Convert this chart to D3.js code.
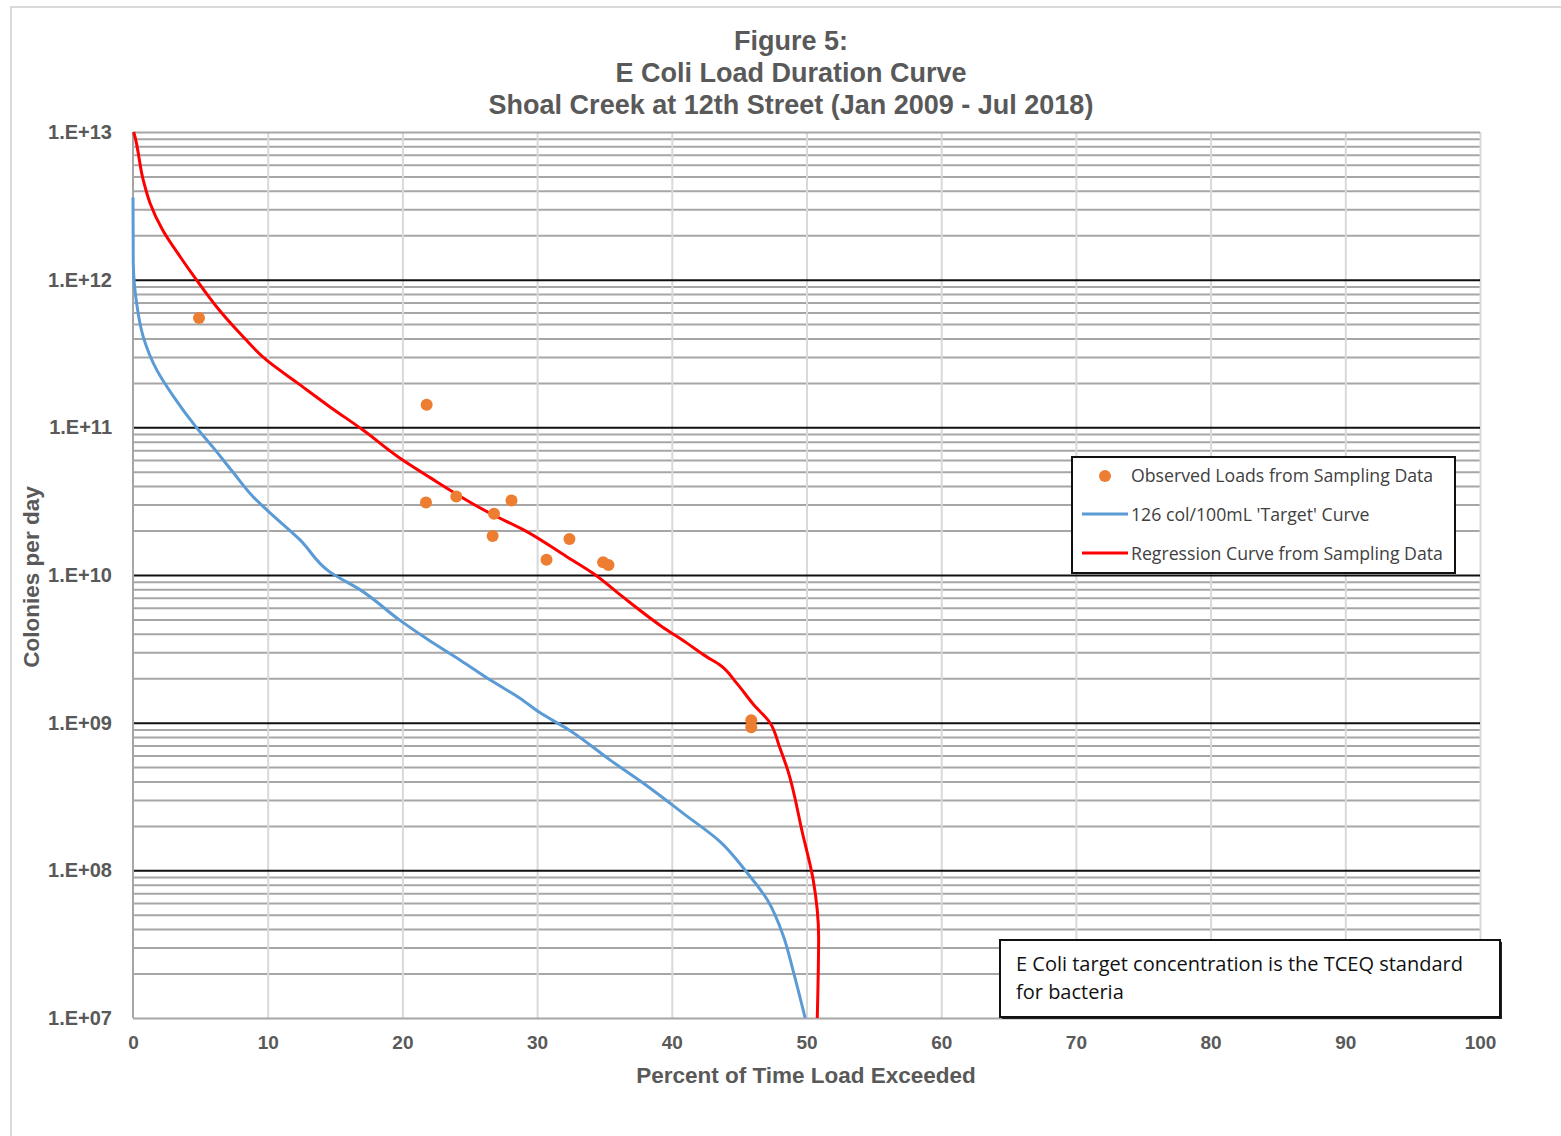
<!DOCTYPE html>
<html>
<head>
<meta charset="utf-8">
<script src="https://cdn.jsdelivr.net/npm/d3@7"></script>
<style>
  body { margin: 0; background: #fff; }
  text { font-family: "Liberation Sans", Arial, sans-serif; }
</style>
</head>
<body>
<script>
const width = 1561;
const height = 1136;

// observed loads (percent exceeded, colonies/day)
const obsPct = [4.9, 21.8, 21.75, 24.0, 26.8, 28.1, 26.7, 30.7, 32.4, 34.9, 35.3, 45.9, 45.9];
const obsLoad = [5.5e11, 1.42e11, 3.1e10, 3.4e10, 2.6e10, 3.2e10, 1.84e10, 1.27e10, 1.75e10, 1.22e10, 1.17e10, 1.04e9, 9.3e8];

// 126 col/100mL target curve
const targetPct = [0.0, 0.02, 0.27, 0.76, 1.76, 3.0, 4.7, 5.9, 7.4, 8.9, 9.95, 12.4, 14.6, 16.9, 19.8, 22.0, 24.3, 26.5, 28.7, 30.2, 32.4, 35.4, 38.4, 40.8, 43.6, 45.6, 47.1, 48.3, 49.0, 49.9];
const targetLoad = [3.6e12, 1.3e12, 6.9e11, 4.1e11, 2.45e11, 1.62e11, 1.0e11, 7.4e10, 5.0e10, 3.4e10, 2.75e10, 1.73e10, 1.05e10, 7.9e9, 4.95e9, 3.6e9, 2.65e9, 1.95e9, 1.47e9, 1.17e9, 8.9e8, 5.6e8, 3.6e8, 2.45e8, 1.56e8, 9.6e7, 6.3e7, 3.55e7, 2.1e7, 1.0e7];

// regression curve from sampling data
const regPct = [0.05, 0.15, 0.76, 1.26, 2.2, 3.5, 4.7, 6.2, 7.9, 9.9, 12.2, 14.6, 17.1, 19.8, 22.0, 26.5, 29.0, 32.2, 34.2, 36.2, 39.3, 41.1, 42.6, 43.6, 44.8, 46.0, 47.3, 48.0, 48.6, 49.7, 50.5, 50.9, 50.8];
const regLoad = [1.0e13, 9.25e12, 4.73e12, 3.31e12, 2.17e12, 1.43e12, 1.0e12, 6.56e11, 4.37e11, 2.86e11, 2.0e11, 1.38e11, 9.55e10, 6.2e10, 4.6e10, 2.62e10, 2.02e10, 1.33e10, 1.02e10, 7.3e9, 4.45e9, 3.47e9, 2.79e9, 2.45e9, 1.86e9, 1.35e9, 9.95e8, 6.84e8, 4.79e8, 1.79e8, 8.6e7, 3.55e7, 1.0e7];

const xTicks = [0, 10, 20, 30, 40, 50, 60, 70, 80, 90, 100];
const yTicks = [1e7, 1e8, 1e9, 1e10, 1e11, 1e12, 1e13];

const titleLines = ["Figure 5:", "E Coli Load Duration Curve", "Shoal Creek at 12th Street (Jan 2009 - Jul 2018)"];
const legendLabels = ["Observed Loads from Sampling Data", "126 col/100mL 'Target' Curve", "Regression Curve from Sampling Data"];
const noteLines = ["E Coli target concentration is the TCEQ standard", "for bacteria"];

const margin = { left: 133, right: 81, top: 132, bottom: 118 };
const grey = "#595959";

const svg = d3.select("body").append("svg")
    .attr("width", width)
    .attr("height", height);

// outer frame
svg.append("path")
    .attr("d", "M11," + height + "V7H" + width)
    .attr("fill", "none")
    .attr("stroke", "#d9d9d9")
    .attr("stroke-width", 2);

const xScale = d3.scaleLinear()
    .domain([0, 100])
    .range([margin.left, width - margin.right]);

const yScale = d3.scaleLog()
    .domain([1e7, 1e13])
    .range([height - margin.bottom, margin.top]);

// minor grid lines 2..9 x 10^n
const minor = [];
yTicks.slice(0, -1).forEach(function (d) {
    for (let k = 2; k < 10; k++) minor.push(d * k);
});

svg.append("g")
    .attr("transform", "translate(" + margin.left + ",0)")
    .call(d3.axisLeft(yScale).tickValues(minor).tickSize(-(xScale(100) - xScale(0))).tickFormat(""))
    .call(g => g.select(".domain").remove())
    .call(g => g.selectAll("line").attr("stroke", "#a6a6a6").attr("stroke-width", 2));

// vertical grid
svg.append("g")
    .attr("transform", "translate(0," + yScale(1e7) + ")")
    .call(d3.axisBottom(xScale).tickValues(xTicks.slice(1)).tickSize(-(yScale(1e7) - yScale(1e13))).tickFormat(""))
    .call(g => g.select(".domain").remove())
    .call(g => g.selectAll("line").attr("stroke", "#d9d9d9").attr("stroke-width", 2));

// major grid (decades)
svg.append("g")
    .attr("transform", "translate(" + margin.left + ",0)")
    .call(d3.axisLeft(yScale).tickValues(yTicks).tickSize(-(xScale(100) - xScale(0))).tickFormat(""))
    .call(g => g.select(".domain").remove())
    .call(g => g.selectAll("line")
        .attr("stroke", d => (d === 1e13 || d === 1e7) ? "#a6a6a6" : "#111")
        .attr("stroke-width", 2));

// left axis line
svg.append("line")
    .attr("x1", xScale(0)).attr("x2", xScale(0))
    .attr("y1", yScale(1e13)).attr("y2", yScale(1e7))
    .attr("stroke", "#a6a6a6")
    .attr("stroke-width", 2);

// tick labels
svg.append("g")
    .attr("transform", "translate(" + (margin.left - 18) + ",0)")
    .call(d3.axisLeft(yScale).tickValues(yTicks).tickSize(0)
        .tickFormat(d => "1.E+" + String(Math.round(Math.log10(d))).padStart(2, "0")))
    .call(g => g.select(".domain").remove())
    .call(g => g.selectAll("text")
        .attr("fill", grey)
        .style("font-size", "20px")
        .style("font-weight", "bold")
        .style("font-family", "'Liberation Sans', Arial, sans-serif"));

svg.append("g")
    .attr("transform", "translate(0," + (yScale(1e7) + 14) + ")")
    .call(d3.axisBottom(xScale).tickValues(xTicks).tickSize(0))
    .call(g => g.select(".domain").remove())
    .call(g => g.selectAll("text")
        .attr("fill", grey)
        .style("font-size", "19px")
        .style("font-weight", "bold")
        .style("font-family", "'Liberation Sans', Arial, sans-serif"));

// axis titles
svg.append("text")
    .attr("x", 806)
    .attr("y", 1083)
    .attr("text-anchor", "middle")
    .attr("fill", grey)
    .style("font-size", "22.5px")
    .style("font-weight", "bold")
    .text("Percent of Time Load Exceeded");

svg.append("text")
    .attr("transform", "translate(39,577) rotate(-90)")
    .attr("text-anchor", "middle")
    .attr("fill", grey)
    .style("font-size", "22.5px")
    .style("font-weight", "bold")
    .text("Colonies per day");

// title
svg.selectAll("text.title")
    .data(titleLines)
    .enter()
    .append("text")
    .attr("class", "title")
    .attr("x", 791)
    .attr("y", (d, i) => 50 + i * 32)
    .attr("text-anchor", "middle")
    .attr("fill", grey)
    .style("font-size", "27px")
    .style("font-weight", "bold")
    .text(d => d);

// curves
const line = d3.line()
    .x(d => xScale(d[0]))
    .y(d => yScale(d[1]))
    .curve(d3.curveMonotoneY);

svg.append("path")
    .datum(targetPct.map((p, i) => [p, targetLoad[i]]))
    .attr("d", line)
    .attr("fill", "none")
    .attr("stroke", "#5b9bd5")
    .attr("stroke-width", 3);

svg.append("path")
    .datum(regPct.map((p, i) => [p, regLoad[i]]))
    .attr("d", line)
    .attr("fill", "none")
    .attr("stroke", "#ff0000")
    .attr("stroke-width", 3);

// observed points
svg.selectAll("circle.obs")
    .data(obsPct.map((p, i) => [p, obsLoad[i]]))
    .enter()
    .append("circle")
    .attr("class", "obs")
    .attr("cx", d => xScale(d[0]))
    .attr("cy", d => yScale(d[1]))
    .attr("r", 6)
    .attr("fill", "#ed7d31");

// legend
const legend = svg.append("g").attr("transform", "translate(1072,457)");
legend.append("rect")
    .attr("width", 383).attr("height", 116)
    .attr("fill", "#fff")
    .attr("stroke", "#111")
    .attr("stroke-width", 2);
legend.append("circle")
    .attr("cx", 33).attr("cy", 19).attr("r", 6)
    .attr("fill", "#ed7d31");
legend.append("line")
    .attr("x1", 10).attr("x2", 56).attr("y1", 57).attr("y2", 57)
    .attr("stroke", "#5b9bd5").attr("stroke-width", 3);
legend.append("line")
    .attr("x1", 10).attr("x2", 56).attr("y1", 96).attr("y2", 96)
    .attr("stroke", "#ff0000").attr("stroke-width", 3);
legend.selectAll("text")
    .data(legendLabels)
    .enter()
    .append("text")
    .attr("x", 59)
    .attr("y", (d, i) => 25 + i * 39)
    .attr("fill", "#404040")
    .style("font-family", "'Open Sans', sans-serif")
    .style("font-size", "17.7px")
    .text(d => d);

// note box
const note = svg.append("g").attr("transform", "translate(1000,940)");
note.append("rect")
    .attr("x", 2).attr("y", 2)
    .attr("width", 500).attr("height", 77)
    .attr("fill", "#222");
note.append("rect")
    .attr("width", 500).attr("height", 77)
    .attr("fill", "#fff")
    .attr("stroke", "#111")
    .attr("stroke-width", 2);
note.selectAll("text")
    .data(noteLines)
    .enter()
    .append("text")
    .attr("x", 16)
    .attr("y", (d, i) => 31 + i * 28)
    .attr("fill", "#111")
    .style("font-family", "'Open Sans', sans-serif")
    .style("font-size", "20px")
    .text(d => d);
</script>
</body>
</html>
